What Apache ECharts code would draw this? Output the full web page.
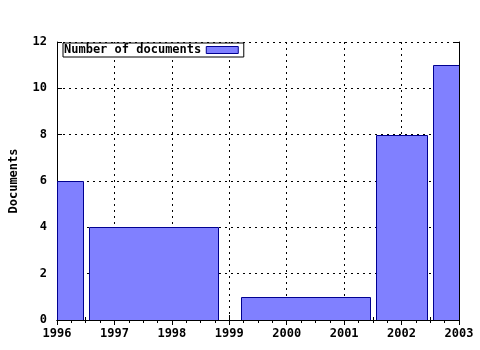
<!DOCTYPE html>
<html><head><meta charset="utf-8">
<script src="https://cdn.jsdelivr.net/npm/echarts@6/dist/echarts.min.js"></script>
<style>html,body{margin:0;padding:0;background:#fff}#c{width:480px;height:350px}</style>
</head><body><div id="c"></div>
<script>
const barStart = [1996.0, 1996.56, 1999.21, 2001.56, 2002.55];
const barEnd   = [1996.46, 1998.81, 2001.45, 2002.45, 2003.3];
const values   = [6, 4, 1, 8, 11];
const yTicks = [0, 2, 4, 6, 8, 10, 12];
const seriesName = 'Number of documents';
const yTitle = 'Documents';

const FONT = 'DejaVu Sans Mono';
const data = values.map((v, i) => [barStart[i], barEnd[i], v]);
const fill = '#8080ff', stroke = '#000090';
const lab = {fontFamily: FONT, fontWeight: 'bold', fontSize: 12, color: '#000'};
const chart = echarts.init(document.getElementById('c'), null, {renderer: 'canvas'});
const baseX = {
  type: 'value', min: 1996, max: 2003, interval: 1,
  axisLine: {show: true, lineStyle: {color: '#000', width: 1}},
  axisTick: {show: true, inside: true, length: 5, lineStyle: {color: '#000'}},
  minorTick: {show: true, splitNumber: 4, length: 3, lineStyle: {color: '#000'}},
  minorSplitLine: {show: false}
};
const baseY = {
  type: 'value', min: yTicks[0], max: yTicks[yTicks.length - 1], interval: 2,
  axisLine: {show: true, lineStyle: {color: '#000', width: 1}},
  axisTick: {show: true, inside: true, length: 5, lineStyle: {color: '#000'}}
};
chart.setOption({
  animation: false,
  backgroundColor: '#fff',
  grid: {left: 57, right: 21, top: 42, bottom: 30, containLabel: false, outerBoundsMode: 'none'},
  legend: {
    show: true, left: 63, top: 43, orient: 'horizontal', align: 'right',
    backgroundColor: '#fff', borderColor: '#000', borderWidth: 1, borderRadius: 0,
    padding: [1, 5, 1, 1], itemWidth: 32, itemHeight: 7,
    textStyle: lab,
    data: [{name: seriesName, icon: 'rect',
      itemStyle: {color: fill, borderColor: stroke, borderWidth: 1}}]
  },
  xAxis: [
    Object.assign({}, baseX, {
      position: 'bottom',
      axisLabel: Object.assign({margin: 8, formatter: v => String(v)}, lab),
      splitLine: {show: true, lineStyle: {color: '#000', type: [2, 4], width: 1}}
    }),
    Object.assign({}, baseX, {
      position: 'top', axisLabel: {show: false}, splitLine: {show: false}
    })
  ],
  yAxis: [
    Object.assign({}, baseY, {
      position: 'left',
      name: yTitle, nameLocation: 'middle', nameGap: 37, nameRotate: 90,
      nameTextStyle: lab,
      axisLabel: Object.assign({margin: 10}, lab),
      splitLine: {show: true, lineStyle: {color: '#000', type: [2, 4], width: 1}}
    }),
    Object.assign({}, baseY, {
      position: 'right', axisLabel: {show: false}, splitLine: {show: false}
    })
  ],
  series: [{
    name: seriesName, type: 'custom', clip: true,
    xAxisIndex: 0, yAxisIndex: 0,
    itemStyle: {color: fill, borderColor: stroke},
    encode: {x: [0, 1], y: 2},
    data: data,
    renderItem: function (params, api) {
      const s = api.coord([api.value(0), 0]);
      const e = api.coord([api.value(1), api.value(2)]);
      return {
        type: 'rect',
        shape: {x: Math.round(s[0]) + 0.5, y: Math.round(e[1]) + 0.5,
                width: Math.round(e[0]) - Math.round(s[0]),
                height: Math.round(s[1]) - Math.round(e[1])},
        style: {fill: fill, stroke: stroke, lineWidth: 1}
      };
    }
  }]
});
</script></body></html>
